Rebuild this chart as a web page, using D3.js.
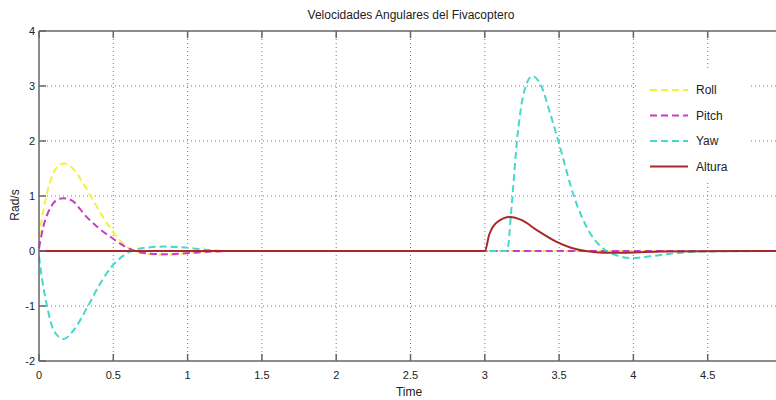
<!DOCTYPE html>
<html>
<head>
<meta charset="utf-8">
<script src="https://cdn.jsdelivr.net/npm/d3@7"></script>
<style>
  body { margin: 0; background: #fff; }
  text { font-family: "Liberation Sans", Arial, sans-serif; fill: #222; }
</style>
</head>
<body>
<script>
// values
const rollT = [0, 0.03, 0.08, 0.12, 0.17, 0.22, 0.3, 0.39, 0.49, 0.59, 0.65, 0.75, 0.85, 0.95, 1.1, 1.3, 5];
const rollV = [0.25, 0.75, 1.3, 1.52, 1.59, 1.52, 1.22, 0.8, 0.38, 0.08, -0.01, -0.06, -0.07, -0.05, -0.02, 0, 0];

const pitchT = [0, 0.03, 0.08, 0.12, 0.165, 0.22, 0.32, 0.4, 0.49, 0.58, 0.65, 0.75, 0.85, 0.95, 1.1, 1.3, 5];
const pitchV = [0.05, 0.45, 0.8, 0.93, 0.96, 0.92, 0.62, 0.42, 0.24, 0.08, 0, -0.05, -0.06, -0.05, -0.02, 0, 0];

const yawT = [0, 0.02, 0.05, 0.1, 0.165, 0.23, 0.33, 0.41, 0.49, 0.57, 0.64, 0.72, 0.84, 0.95, 1.1, 1.25,
              3.1, 3.15, 3.18, 3.22, 3.27, 3.32, 3.38, 3.44, 3.5, 3.6, 3.71, 3.82, 3.9, 3.98, 4.1, 4.25, 4.45, 5];
const yawV = [-0.1, -0.5, -0.95, -1.45, -1.6, -1.45, -1.0, -0.6, -0.28, -0.08, 0.02, 0.06, 0.08, 0.07, 0.03, 0,
              0, 0, 0.8, 2.1, 2.95, 3.18, 3.0, 2.5, 1.95, 0.99, 0.32, 0, -0.09, -0.13, -0.1, -0.05, -0.01, 0];

const altT = [0, 3.0, 3.03, 3.08, 3.17, 3.25, 3.35, 3.48, 3.58, 3.68, 3.8, 3.95, 4.2, 5];
const altV = [0, 0, 0.3, 0.52, 0.62, 0.56, 0.38, 0.17, 0.06, 0, -0.03, -0.03, -0.01, 0];

const seriesNames = ["Roll", "Pitch", "Yaw", "Altura"];
const xTicks = [0, 0.5, 1, 1.5, 2, 2.5, 3, 3.5, 4, 4.5, 5];
const xLabels = [0, 0.5, 1, 1.5, 2, 2.5, 3, 3.5, 4, 4.5]; // "5" falls outside the cropped picture
const yTicks = [-2, -1, 0, 1, 2, 3, 4];

const series = [
    { name: seriesNames[0], t: rollT, v: rollV, color: "#f2f23c", dash: "7,4" },
    { name: seriesNames[1], t: pitchT, v: pitchV, color: "#c83cc8", dash: "7,4" },
    { name: seriesNames[2], t: yawT, v: yawV, color: "#46d8c8", dash: "7,4" },
    { name: seriesNames[3], t: altT, v: altV, color: "#a8282c", dash: null }
];

const width = 776, height = 400;
const margin = { top: 31, left: 39, bottom: 39 };
const plotRight = 782; // the reference is cut off on the right

const x = d3.scaleLinear().domain([0, 5]).range([margin.left, plotRight]);
const y = d3.scaleLinear().domain([-2, 4]).range([height - margin.bottom, margin.top]);

const svg = d3.select("body").append("svg")
    .attr("width", width)
    .attr("height", height);

// grid
const grid = svg.append("g").attr("stroke", "#555").attr("stroke-width", 0.8).attr("stroke-dasharray", "1,3");
grid.selectAll(".gx").data(xTicks.slice(1)).enter().append("line")
    .attr("x1", d => x(d)).attr("x2", d => x(d))
    .attr("y1", y(4)).attr("y2", y(-2));
grid.selectAll(".gy").data(yTicks.slice(1, -1)).enter().append("line")
    .attr("x1", x(0)).attr("x2", x(5))
    .attr("y1", d => y(d)).attr("y2", d => y(d));

// curves
const line = d3.line()
    .x(d => x(d[0]))
    .y(d => y(d[1]))
    .curve(d3.curveMonotoneX);

series.forEach(s => {
    svg.append("path")
        .datum(d3.zip(s.t, s.v))
        .attr("fill", "none")
        .attr("stroke", s.color)
        .attr("stroke-width", 2)
        .attr("stroke-dasharray", s.dash)
        .attr("d", line);
});

// axes box (left, top, bottom)
const axisColor = "#666";
const frame = svg.append("g").attr("stroke", axisColor).attr("stroke-width", 1.5);
frame.append("line").attr("x1", x(0)).attr("x2", x(0)).attr("y1", y(4)).attr("y2", y(-2));
frame.append("line").attr("x1", x(0)).attr("x2", x(5)).attr("y1", y(4)).attr("y2", y(4));
frame.append("line").attr("x1", x(0)).attr("x2", x(5)).attr("y1", y(-2)).attr("y2", y(-2));

const tickLen = 7;
frame.selectAll(".tb").data(xTicks).enter().append("line")
    .attr("x1", d => x(d)).attr("x2", d => x(d))
    .attr("y1", y(-2)).attr("y2", y(-2) - tickLen);
frame.selectAll(".tt").data(xTicks).enter().append("line")
    .attr("x1", d => x(d)).attr("x2", d => x(d))
    .attr("y1", y(4)).attr("y2", y(4) + tickLen);
frame.selectAll(".tl").data(yTicks).enter().append("line")
    .attr("x1", x(0)).attr("x2", x(0) + tickLen)
    .attr("y1", d => y(d)).attr("y2", d => y(d));

// tick labels
svg.selectAll(".xl").data(xLabels).enter().append("text")
    .attr("x", d => x(d))
    .attr("y", y(-2) + 18)
    .attr("text-anchor", "middle")
    .style("font-size", "11px")
    .text(d => d);
svg.selectAll(".yl").data(yTicks).enter().append("text")
    .attr("x", x(0) - 4)
    .attr("y", d => y(d) + 4)
    .attr("text-anchor", "end")
    .style("font-size", "11px")
    .text(d => d);

// titles
svg.append("text")
    .attr("x", 411).attr("y", 19)
    .attr("text-anchor", "middle")
    .style("font-size", "12px")
    .text("Velocidades Angulares del Fivacoptero");
svg.append("text")
    .attr("x", 409).attr("y", 396)
    .attr("text-anchor", "middle")
    .style("font-size", "12px")
    .text("Time");
svg.append("text")
    .attr("transform", "translate(19,205) rotate(-90)")
    .attr("text-anchor", "middle")
    .style("font-size", "12px")
    .text("Rad/s");

// legend
const legend = svg.append("g").attr("transform", "translate(637,70)");
legend.append("rect")
    .attr("width", 111).attr("height", 112)
    .attr("fill", "#fff");
const item = legend.selectAll(".item").data(series).enter().append("g")
    .attr("transform", (d, i) => `translate(0,${20 + i * 25.5})`);
item.append("line")
    .attr("x1", 13).attr("x2", 51)
    .attr("stroke", d => d.color)
    .attr("stroke-width", 2)
    .attr("stroke-dasharray", d => d.dash);
item.append("text")
    .attr("x", 59).attr("y", 4)
    .style("font-size", "12px")
    .text(d => d.name);
</script>
</body>
</html>
